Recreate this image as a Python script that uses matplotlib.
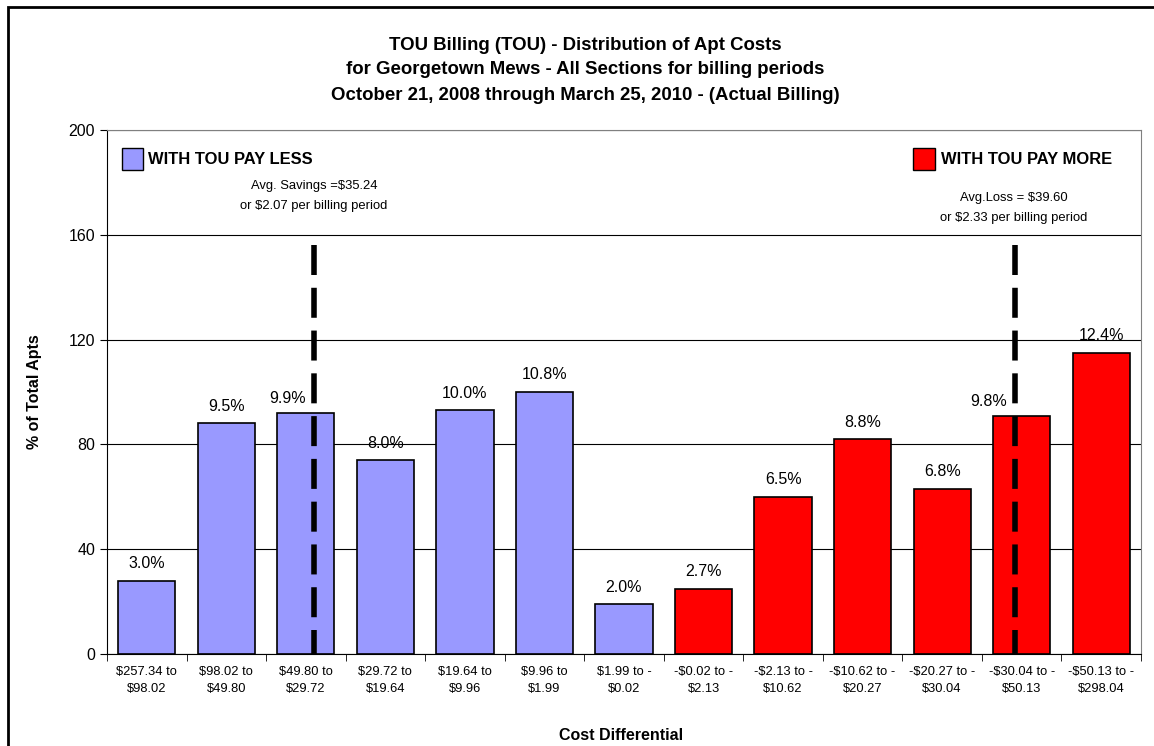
import numpy as np
import matplotlib
matplotlib.use("Agg")
import matplotlib.pyplot as plt
from matplotlib.patches import Rectangle

plt.rcParams['font.family'] = ['Liberation Sans', 'DejaVu Sans']

categorias = ["$257.34 to\n$98.02", "$98.02 to\n$49.80", "$49.80 to\n$29.72",
              "$29.72 to\n$19.64", "$19.64 to\n$9.96", "$9.96 to\n$1.99",
              "$1.99 to -\n$0.02", "-$0.02 to -\n$2.13", "-$2.13 to -\n$10.62",
              "-$10.62 to -\n$20.27", "-$20.27 to -\n$30.04", "-$30.04 to -\n$50.13",
              "-$50.13 to -\n$298.04"]
valores = [28, 88, 92, 74, 93, 100, 19, 25, 60, 82, 63, 91, 115]
etiquetas = ["3.0%", "9.5%", "9.9%", "8.0%", "10.0%", "10.8%", "2.0%",
             "2.7%", "6.5%", "8.8%", "6.8%", "9.8%", "12.4%"]
paga_menos = [True]*7 + [False]*6
promedios = [2.1, 10.92]   # posicion de las lineas de promedio
alto_promedio = 156
titulo = ["TOU Billing (TOU) - Distribution of Apt Costs",
          "for Georgetown Mews - All Sections for billing periods",
          "October 21, 2008 through March 25, 2010 - (Actual Billing)"]

azul = "#9999FF"
rojo = "#FF0000"

fig = plt.figure(figsize=(11.54, 7.46), dpi=100)
ax = fig.add_axes([107/1154, 1-654/746, (1141-107)/1154, (654-130)/746])

# marco de la figura
fig.patches.append(Rectangle((8/1154, -0.1), 1.2, 1.1-7/746, transform=fig.transFigure,
                             fill=False, edgecolor="black", linewidth=2))

x = np.arange(len(valores))
colores = [azul if p else rojo for p in paga_menos]
ax.bar(x, valores, width=0.72, color=colores, edgecolor="black", linewidth=1.2, zorder=3)

for xi, v, e in zip(x, valores, etiquetas):
    # las etiquetas junto a una linea de promedio se corren a la izquierda
    cerca = [p for p in promedios if abs(p - xi) < 0.5]
    if cerca:
        ax.text(cerca[0] - 0.1, v + 5.5, e, ha="right", va="center", fontsize=11.5, zorder=5)
    else:
        ax.text(xi, v + 6.5, e, ha="center", va="center", fontsize=11.5)

for p in promedios:
    ax.plot([p, p], [alto_promedio, 0], color="black", linewidth=4,
            dashes=(5.4, 2.3), zorder=4, dash_capstyle="butt")

ax.set_xlim(-0.5, len(valores) - 0.5)
ax.set_ylim(0, 200)
ax.set_yticks(np.arange(0, 201, 40))
ax.tick_params(axis="y", labelsize=11.5, direction="out", length=5)
ax.yaxis.grid(True, color="black", linewidth=0.8, zorder=0)

ax.set_xticks(x)
ax.set_xticklabels(categorias, fontsize=9.3, linespacing=1.55)
ax.set_xticks(np.arange(-0.5, len(valores), 1), minor=True)
ax.tick_params(axis="x", which="major", length=0, pad=9)
ax.tick_params(axis="x", which="minor", length=5, direction="out")

for s in ["top", "right"]:
    ax.spines[s].set_color("gray")
ax.spines["left"].set_color("black")
ax.spines["bottom"].set_color("black")

fig.text(35/1154, 1-392/746, "% of Total Apts", fontsize=11.5, fontweight="bold",
         rotation=90, ha="center", va="center")
fig.text(621/1154, 1-736/746, "Cost Differential", fontsize=11.5, fontweight="bold",
         ha="center", va="center")

for i, linea in enumerate(titulo):
    fig.text(585/1154, 1-(45 + 25*i)/746, linea, fontsize=13.4, fontweight="bold",
             ha="center", va="center")

# leyenda manual
fig.patches.append(Rectangle((122/1154, 1-170/746), 21/1154, 22/746, transform=fig.transFigure,
                             facecolor=azul, edgecolor="black", linewidth=1))
fig.text(148/1154, 1-159/746, "WITH TOU PAY LESS", fontsize=11.9, fontweight="bold", va="center")
fig.patches.append(Rectangle((913/1154, 1-170/746), 22/1154, 22/746, transform=fig.transFigure,
                             facecolor=rojo, edgecolor="black", linewidth=1))
fig.text(941/1154, 1-159/746, "WITH TOU PAY MORE", fontsize=11.9, fontweight="bold", va="center")

fig.text(314/1154, 1-196/746, "Avg. Savings =$35.24\nor $2.07 per billing period",
         fontsize=9.4, ha="center", va="center", linespacing=1.9)
fig.text(1014/1154, 1-208/746, "Avg.Loss = $39.60\nor $2.33 per billing period",
         fontsize=9.4, ha="center", va="center", linespacing=1.9)

plt.savefig("out.png", dpi=100)
